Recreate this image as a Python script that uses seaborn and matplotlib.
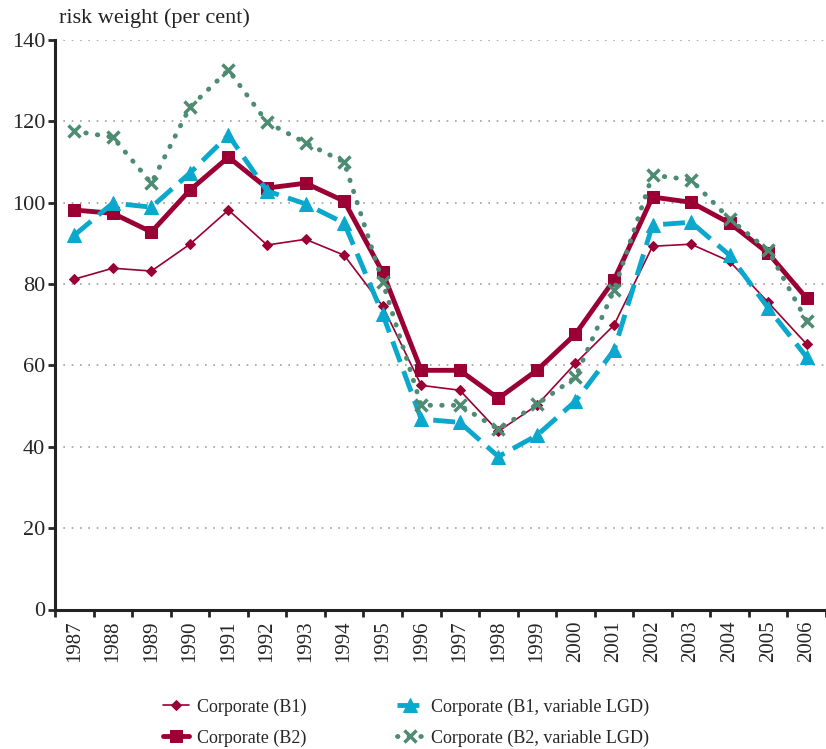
import numpy as np
import pandas as pd
import seaborn as sns
import matplotlib.pyplot as plt

# Data
years = [str(y) for y in range(1987, 2007)]
b1 = [81.2, 83.9, 83.2, 89.8, 98.2, 89.6, 91.0, 87.1, 74.6, 55.1,
      53.9, 43.8, 50.2, 60.5, 69.9, 89.3, 89.8, 85.6, 75.5, 65.2]
b2 = [98.2, 97.4, 92.8, 103.1, 111.2, 103.6, 104.8, 100.4, 82.9, 58.8,
      58.8, 51.9, 58.8, 67.7, 81.0, 101.4, 100.1, 95.0, 87.6, 76.5]
b1_lgd = [92.0, 99.9, 98.9, 107.3, 116.6, 102.9, 99.7, 95.0, 72.6, 46.8,
          46.0, 37.6, 42.8, 51.2, 63.7, 94.5, 95.2, 87.1, 74.1, 62.0]
b2_lgd = [117.6, 116.1, 104.8, 123.5, 132.6, 119.8, 114.7, 110.0, 80.5, 50.2,
          50.2, 44.3, 50.4, 57.1, 78.5, 106.8, 105.6, 96.0, 88.3, 70.9]
labels = ["Corporate (B1)", "Corporate (B2)",
          "Corporate (B1, variable LGD)", "Corporate (B2, variable LGD)"]

maroon = "#9B0034"
cyan = "#0AA8CC"
green = "#4D8C72"

sns.set_style("white")
plt.rcParams['font.family'] = ['Liberation Serif', 'DejaVu Serif']

df = pd.DataFrame({"pos": np.arange(len(years)), "b1": b1, "b2": b2,
                   "b1_lgd": b1_lgd, "b2_lgd": b2_lgd})

fig = plt.figure(figsize=(8.26, 7.49), dpi=100)
ax = fig.add_axes([55 / 826, 1 - 609.5 / 749, 771 / 826, 569.5 / 749])

sns.lineplot(data=df, x="pos", y="b1", ax=ax, color=maroon, lw=1.2,
             marker="D", markersize=5, markeredgecolor=maroon, label=labels[0])
sns.lineplot(data=df, x="pos", y="b2", ax=ax, color=maroon, lw=3.5,
             marker="s", markersize=8, markeredgecolor=maroon, label=labels[1])
sns.lineplot(data=df, x="pos", y="b1_lgd", ax=ax, color=cyan, lw=3.5,
             marker="^", markersize=10, markeredgecolor=cyan, label=labels[2])
ax.lines[-1].set_dashes([4.5, 2])
sns.lineplot(data=df, x="pos", y="b2_lgd", ax=ax, color=green, lw=3.5,
             marker="x", markersize=9, markeredgewidth=2.5, markeredgecolor=green,
             label=labels[3])
ax.lines[-1].set_dashes([0.1, 2.3])
ax.lines[-1].set_dash_capstyle("round")

ax.set_ylim(0, 140)
ax.set_xlim(-0.5, 19.27)
ax.set_yticks(range(0, 141, 20))
ax.set_xticks(range(len(years)))
ax.set_xticklabels(years, rotation=90, fontsize=15)
ax.set_xticks(np.arange(-0.5, 20, 1), minor=True)
ax.tick_params(axis="x", which="major", length=0, pad=8)
ax.tick_params(axis="x", which="minor", length=5, width=2, direction="out", bottom=True)
ax.tick_params(axis="y", length=5, width=2, direction="out", left=True, labelsize=16, pad=2)
ax.set_xlabel("")
ax.set_ylabel("")

for v in range(20, 141, 20):
    ax.axhline(v, color="#a0a0a0", lw=1.2, ls=(0, (1, 4)), zorder=0)

for s in ["top", "right"]:
    ax.spines[s].set_visible(False)
for s in ["left", "bottom"]:
    ax.spines[s].set_linewidth(2.2)
    ax.spines[s].set_color("#222222")

fig.text(59 / 826, 1 - 18 / 749, "risk weight (per cent)", fontsize=16,
         va="center", ha="left", color="#222222")

handles, labs = ax.get_legend_handles_labels()
leg = ax.legend(handles, labs, ncol=2, frameon=False, fontsize=13,
                loc="center left", bbox_to_anchor=(163 / 826, 1 - 722.5 / 749),
                bbox_transform=fig.transFigure, borderpad=0, borderaxespad=0,
                handlelength=1.45, handletextpad=0.45, columnspacing=5.0,
                labelspacing=0.75)

fig.savefig("out.png", dpi=100)
